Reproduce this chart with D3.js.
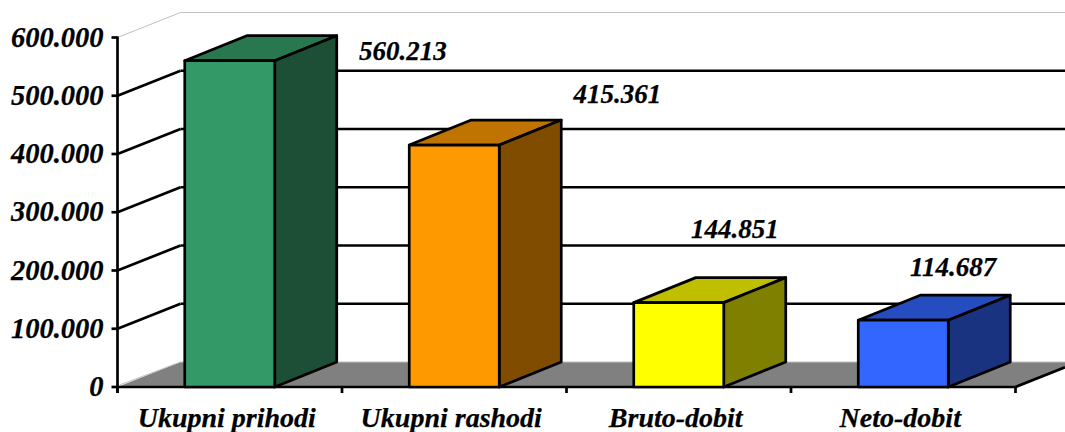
<!DOCTYPE html>
<html><head><meta charset="utf-8">
<script src="https://cdn.jsdelivr.net/npm/d3@7"></script>
<style>html,body{margin:0;padding:0;background:#fff}svg{display:block}
text{font-family:"Liberation Serif",serif;font-weight:bold;font-style:italic;fill:#000;stroke:#000;stroke-width:0.25}</style>
</head><body><svg id="c" width="1065" height="432"></svg>
<script>
const categories = ["Ukupni prihodi","Ukupni rashodi","Bruto-dobit","Neto-dobit"];
const values = [560213,415361,144851,114687];
const valueLabels = ["560.213","415.361","144.851","114.687"];
const frontColors = ["#339966","#FF9900","#FFFF00","#3366FF"];
const topColors = ["#29774F","#BF7300","#BFBF00","#264DBF"];
const sideColors = ["#1C4F36","#804D00","#808000","#1A3380"];
const yTicks = [0,100000,200000,300000,400000,500000,600000];
const yTickLabels = ["0","100.000","200.000","300.000","400.000","500.000","600.000"];
const labelShift = [173,163,56,50];
const labelLift = [1,42,65,44];

const svg = d3.select("#c");
const depthX = 63, depthY = 25, barDepthX = 62;
const y = d3.scaleLinear().domain([0,600000]).range([387,37.5]);
const x = d3.scaleBand().domain(categories).range([117.5,1015.5]).paddingInner(0).paddingOuter(0);
const barW = 90;
const rightEdge = 1065;
const SW = 2.7;
const poly = (pts,fill,stroke,sw) => svg.append("path")
  .attr("d","M"+pts.map(p=>p.join(",")).join("L")+"Z")
  .attr("fill",fill).attr("stroke",stroke||"none").attr("stroke-width",sw||0).attr("stroke-linejoin","round");
const line = (a,b,col,sw) => svg.append("line").attr("x1",a[0]).attr("y1",a[1]).attr("x2",b[0]).attr("y2",b[1])
  .attr("stroke",col).attr("stroke-width",sw);

// floor
const y0 = y(0), xL = x.range()[0], xR = x.range()[1];
poly([[xL,y0],[xL+depthX,y0-depthY],[rightEdge,y0-depthY],[rightEdge,y0-(rightEdge-xR)*depthY/depthX],[xR,y0]],"#808080");
line([xL+2,y0-2],[xL+depthX,y0-depthY],"#c0c0c0",1);
line([xL+depthX,y0-depthY],[rightEdge,y0-depthY],"#c0c0c0",1);

// gridlines
yTicks.forEach(t=>{
  if(t===0) return;
  const yy = y(t), top = t===600000;
  const col = top ? "#c0c0c0" : "#000", sw = top ? 1 : SW;
  line([xL,yy],[xL+depthX,yy-depthY],col,sw);
  line([xL+depthX,yy-depthY],[rightEdge,yy-depthY],col,sw);
});

// axes
line([xL,y(600000)-1],[xL,y0+6],"#000",SW);
line([xL,y0],[xR,y0],"#000",SW);
line([xR,y0],[rightEdge,y0-(rightEdge-xR)*depthY/depthX],"#000",SW);
yTicks.forEach(t=>line([xL-6,y(t)],[xL,y(t)],"#000",SW));
d3.range(categories.length+1).forEach(i=>{
  const px = xL + i*x.step();
  line([px,y0],[px,y0+6],"#000",SW);
});

// bars
categories.forEach((c,i)=>{
  const bx = x(c)+(x.bandwidth()-barW)/2, by = y(values[i]);
  const dx = barDepthX, dy = depthY;
  poly([[bx,by],[bx+dx,by-dy],[bx+barW+dx,by-dy],[bx+barW,by]],topColors[i],"#000",SW);
  poly([[bx+barW,by],[bx+barW+dx,by-dy],[bx+barW+dx,y0-dy],[bx+barW,y0]],sideColors[i],"#000",SW);
  poly([[bx,by],[bx+barW,by],[bx+barW,y0],[bx,y0]],frontColors[i],"#000",SW);
  svg.append("text").attr("x",x(c)+x.bandwidth()/2+labelShift[i]).attr("y",by-labelLift[i])
    .attr("text-anchor","middle").attr("font-size",27).text(valueLabels[i]);
  svg.append("text").attr("x",x(c)+x.bandwidth()/2-3).attr("y",427)
    .attr("text-anchor","middle").attr("font-size",28).text(c);
});

// y labels
yTicks.forEach((t,i)=>svg.append("text").attr("x",103.5).attr("y",y(t)+9)
  .attr("text-anchor","end").attr("font-size",28.5).text(yTickLabels[i]));
</script></body></html>
